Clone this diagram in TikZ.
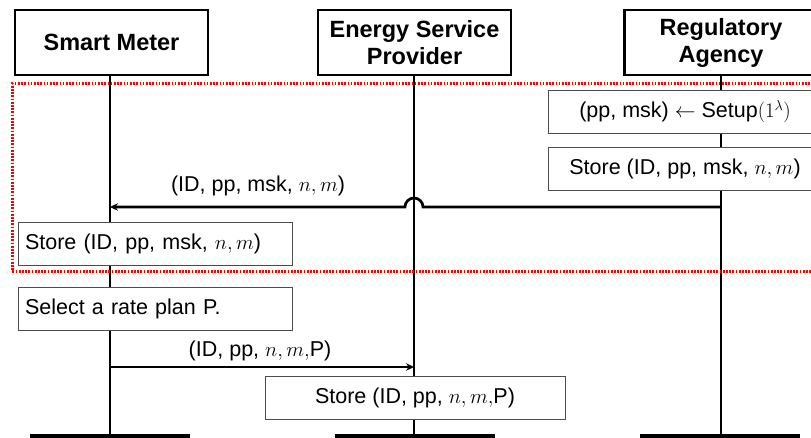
\documentclass[tikz,border=0pt]{standalone}
\usepackage{fontspec}
\setmainfont{Liberation Sans}
\usetikzlibrary{arrows.meta}

\tikzset{
  head/.style={draw=black, line width=2.8pt, fill=white, align=center,
    font=\fontsize{23.5}{27}\selectfont\bfseries, minimum width=193pt, minimum height=65pt, inner sep=2pt},
  stepbox/.style={draw=black!70, line width=1pt, fill=white,
    font=\fontsize{21.5}{23}\selectfont, minimum height=43pt, inner sep=6pt},
  life/.style={line width=2.7pt},
  endbar/.style={line width=3.2pt},
  msg/.style={line width=2.7pt, -{Stealth[length=8pt,width=7.5pt]}},
  msglabel/.style={font=\fontsize{21.5}{23}\selectfont},
  phase/.style={draw=red, line width=2.8pt, dash pattern=on 1.7pt off 1.5pt}
}

\begin{document}
\begin{tikzpicture}[x=1pt,y=-1pt]
\clip (0,0) rectangle (811,437);
\fill[white] (0,0) rectangle (811,437);

% participants
\node[head] (sm)  at (111.5,42.5) {Smart Meter};
\node[head] (esp) at (414.5,42.5) {Energy Service\\Provider};
\node[head] (ra)  at (721,42.5)  {Regulatory\\Agency};

% lifeline ends
\coordinate (smend)  at (110,436);
\coordinate (espend) at (414,436);
\coordinate (raend)  at (721,436);

\draw[life] (sm.south -| smend) -- (smend);
\draw[life] (esp.south -| espend) -- (espend);
\draw[life] (ra.south -| raend) -- (raend);

\draw[endbar] (30,436) -- (190,436);
\draw[endbar] (335,436) -- (495,436);
\draw[endbar] (640,436) -- (800,436);

% key generation phase
\node[phase, minimum width=820pt, minimum height=188pt, anchor=north west] (keyphase) at (11,82) {};

\node[stepbox, minimum width=274pt] (setup) at (685,111.5)
  {(pp, msk) $\leftarrow$ Setup$\bigl(1^{\lambda}\bigr)$};
\node[stepbox, minimum width=274pt] (rastore) at (685,169)
  {Store (ID, pp, msk, $n,m$)};

% key distribution, jumping over the provider lifeline
\coordinate (kfrom) at (721,207);
\coordinate (kto)   at (110,207);
\coordinate (hop)   at (414,207);
\draw[msg] (kfrom) -- ([xshift=9pt]hop) arc[start angle=0, end angle=180, radius=9pt] -- (kto);
\node[msglabel] (klabel) at (258,186) {(ID, pp, msk, $n,m$)};

\node[stepbox, minimum width=274pt, text width=260pt, align=left] (smstore) at (155,243.5)
  {Store (ID, pp, msk, $n,m$)};

% rate plan selection
\node[stepbox, minimum width=274pt, text width=260pt, align=left] (select) at (155,309)
  {Select a rate plan P.};

\coordinate (pfrom) at (110,367);
\coordinate (pto)   at (414,367);
\draw[msg] (pfrom) -- (pto);
\node[msglabel] (plabel) at (260,351) {(ID, pp, $n,m,$P)};

\node[stepbox, minimum width=300pt] (espstore) at (415,397.5)
  {Store (ID, pp, $n,m,$P)};
\end{tikzpicture}
\end{document}
